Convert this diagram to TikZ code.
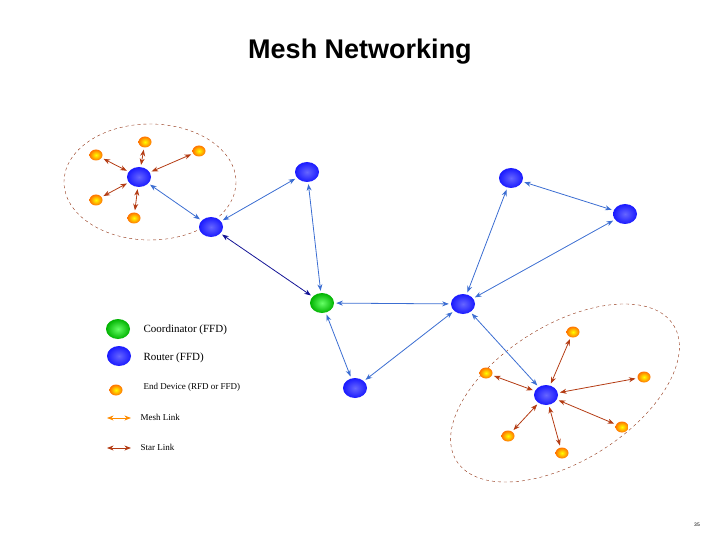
\documentclass[tikz,border=0pt]{standalone}
\usepackage{fontspec}
\setmainfont{Liberation Serif}
\newfontfamily\titlefont{Liberation Sans}
\usetikzlibrary{arrows.meta,shadings,shapes.geometric}
\definecolor{meshblue}{RGB}{60,110,210}
\definecolor{starred}{RGB}{180,60,20}
\definecolor{navy}{RGB}{20,20,150}
\tikzset{
  router/.style={ellipse,minimum width=24pt,minimum height=20pt,inner sep=0pt,shading=radial,inner color=blue!60!white,outer color=blue!90},
  coord/.style={ellipse,minimum width=24pt,minimum height=20pt,inner sep=0pt,shading=radial,inner color=green!60!white,outer color=green!70!black},
  enddev/.style={ellipse,minimum width=13pt,minimum height=11pt,inner sep=0pt,shading=radial,inner color=yellow,outer color=orange!90!red},
  mesh/.style={{Stealth[width=5pt]}-{Stealth[width=5pt]},meshblue,thick,shorten <=2pt,shorten >=2pt},
  star/.style={{Stealth[width=5pt]}-{Stealth[width=5pt]},starred,thick,shorten <=2pt,shorten >=2pt},
}
\begin{document}
\begin{tikzpicture}[x=1pt,y=-1pt]
\useasboundingbox(0,0)rectangle(720,540);
\node[font=\titlefont\bfseries\fontsize{27}{30}\selectfont](title)at(360,52){Mesh Networking};
\node[font=\titlefont\fontsize{5}{6}\selectfont](page)at(697,525){35};
% clusters
\draw[dashed,starred!80!black,thin](150,182)ellipse[x radius=86,y radius=58];
\draw[dashed,starred!80!black,thin,rotate around={32:(565,393)}](565,393)ellipse[x radius=128,y radius=68];
% routers and coordinator
\node[router](r1)at(139,177){};
\node[router](r2)at(211,227){};
\node[router](r3)at(307,172){};
\node[router](r4)at(511,178){};
\node[router](r5)at(625,214){};
\node[router](r6)at(463,304){};
\node[router](r7)at(355,388){};
\node[router](r8)at(546,395){};
\node[coord](c)at(322,303){};
% end devices
\node[enddev](a1)at(96,155){};
\node[enddev](a2)at(145,142){};
\node[enddev](a3)at(199,151){};
\node[enddev](a4)at(96,200){};
\node[enddev](a5)at(134,218){};
\node[enddev](b1)at(573,332){};
\node[enddev](b2)at(486,373){};
\node[enddev](b3)at(644,377){};
\node[enddev](b4)at(508,436){};
\node[enddev](b5)at(622,427){};
\node[enddev](b6)at(562,453){};
% mesh links
\draw[mesh](r1)--(r2);
\draw[mesh](r2)--(r3);
\draw[mesh,navy](r2)--(c);
\draw[mesh](r3)--(c);
\draw[mesh](c)--(r6);
\draw[mesh](c)--(r7);
\draw[mesh](r7)--(r6);
\draw[mesh](r6)--(r4);
\draw[mesh](r6)--(r5);
\draw[mesh](r4)--(r5);
\draw[mesh](r6)--(r8);
% star links
\foreach \e in {a1,a2,a3,a4,a5}\draw[star](r1)--(\e);
\foreach \e in {b1,b2,b3,b4,b5,b6}\draw[star](r8)--(\e);
% legend
\node[coord](lc)at(118,329){};
\node[router](lr)at(119,356){};
\node[enddev](le)at(116,390){};
\coordinate(lm1)at(107,418);\coordinate(lm2)at(131,418);
\coordinate(ls1)at(107,448);\coordinate(ls2)at(131,448);
\draw[{Stealth[width=5pt]}-{Stealth[width=5pt]},orange!90!yellow,thick](lm1)--(lm2);
\draw[{Stealth[width=5pt]}-{Stealth[width=5pt]},starred,thick](ls1)--(ls2);
\node[anchor=west,font=\fontsize{11}{13}\selectfont](tc)at(140,330){Coordinator (FFD)};
\node[anchor=west,font=\fontsize{11}{13}\selectfont](tr)at(140,358){Router (FFD)};
\node[anchor=west,font=\fontsize{9}{11}\selectfont](te)at(140,387){End Device (RFD or FFD)};
\node[anchor=west,font=\fontsize{9}{11}\selectfont](tm)at(137,417){Mesh Link};
\node[anchor=west,font=\fontsize{9}{11}\selectfont](ts)at(137,447){Star Link};
\end{tikzpicture}
\end{document}
